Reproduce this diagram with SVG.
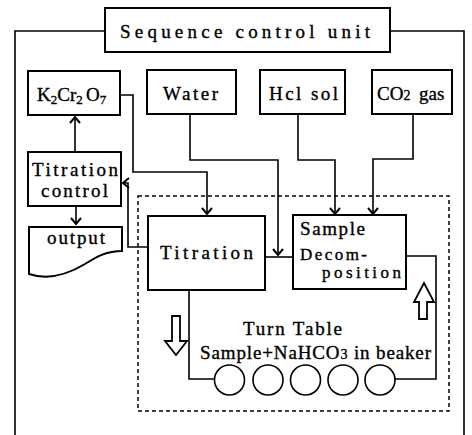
<svg xmlns="http://www.w3.org/2000/svg" width="472" height="435" viewBox="0 0 472 435">
<defs>
<style>
.box{fill:#fff;stroke:#000;stroke-width:2}
.ln{fill:none;stroke:#000;stroke-width:1.6}
.dash{fill:none;stroke:#000;stroke-width:1.5;stroke-dasharray:4 3}
.hollow{fill:#fff;stroke:#000;stroke-width:1.8;stroke-linejoin:miter}
text{font-family:"Liberation Serif","DejaVu Serif",serif;font-size:19px;fill:#000;stroke:#000;stroke-width:0.35}
.sm{font-size:13px}
.mid{font-size:17px}
</style>
<marker id="ahr" viewBox="-8 -7 10 14" markerWidth="10" markerHeight="14" refX="0" refY="0" orient="auto" markerUnits="userSpaceOnUse">
<path d="M-6,-5 L0,0 L-6,5" fill="none" stroke="#000" stroke-width="2"/>
</marker>
</defs>
<rect width="472" height="435" fill="#fff"/>

<g id="connectors">
<path class="ln" d="M105,31 H15 V435"/>
<path class="ln" d="M390,31 H464 V435"/>
<rect class="dash" x="138" y="196" width="311" height="215"/>
<path class="ln" d="M75,152 V117" marker-end="url(#ahr)"/>
<path class="ln" d="M120,95 H133 V172 H207 V214" marker-end="url(#ahr)"/>
<path class="ln" d="M190,114 V160 H278 V255" marker-end="url(#ahr)"/>
<path class="ln" d="M298,114 V160 H335 V214" marker-end="url(#ahr)"/>
<path class="ln" d="M413,114 V159 H373 V214" marker-end="url(#ahr)"/>
<path class="ln" d="M265,257 H293"/>
<path class="ln" d="M148,247 H128 V183 H123" marker-end="url(#ahr)"/>
<path class="ln" d="M76,206 V224" marker-end="url(#ahr)"/>
<path class="ln" d="M189,290 V379 H214.5"/>
<path class="ln" d="M395,379 H436 V256 H406"/>
</g>

<g id="seq">
<rect class="box" x="105" y="8" width="285" height="44"/>
<text x="120" y="38" textLength="250" lengthAdjust="spacing">Sequence control unit</text>
</g>

<g id="k2cr2o7">
<rect class="box" x="28" y="71" width="92" height="44"/>
<text x="37" y="101">K<tspan class="sm" dy="3">2</tspan><tspan dy="-3">Cr</tspan><tspan class="sm" dy="3">2</tspan><tspan dy="-3" x="86">O</tspan><tspan class="sm" dy="3">7</tspan></text>
</g>

<g id="water">
<rect class="box" x="147" y="70" width="89" height="44"/>
<text x="163" y="100" textLength="55" lengthAdjust="spacing">Water</text>
</g>

<g id="hcl">
<rect class="box" x="260" y="70" width="85" height="44"/>
<text x="269" y="100" textLength="69" lengthAdjust="spacing">Hcl sol</text>
</g>

<g id="co2">
<rect class="box" x="372" y="70" width="80" height="44"/>
<text x="377" y="100">CO<tspan font-size="14">2</tspan><tspan x="419">gas</tspan></text>
</g>

<g id="titration-control">
<rect class="box" x="28" y="152" width="93" height="54"/>
<text x="32" y="176" textLength="86" lengthAdjust="spacing">Titration</text>
<text x="41" y="197" textLength="67" lengthAdjust="spacing">control</text>
</g>

<g id="output">
<path class="box" d="M29,227 L122,227 L122,251 C105,251 95,258 85,264 C70,273 50,281 29,274 Z"/>
<text x="47" y="244" textLength="58" lengthAdjust="spacing">output</text>
</g>

<g id="titration">
<rect class="box" x="148" y="216" width="117" height="74"/>
<text x="160" y="259" textLength="93" lengthAdjust="spacing">Titration</text>
</g>

<g id="sample-decomposition">
<rect class="box" x="293" y="215" width="113" height="74"/>
<text x="300" y="235" textLength="65" lengthAdjust="spacing">Sample</text>
<text class="mid" x="300" y="260" textLength="67" lengthAdjust="spacing">Decom-</text>
<text class="mid" x="322" y="278" textLength="79" lengthAdjust="spacing">position</text>
</g>

<g id="turn-table">
<text x="243" y="335" textLength="99" lengthAdjust="spacing">Turn Table</text>
<text x="200" y="359" textLength="231" lengthAdjust="spacing">Sample+NaHCO<tspan font-size="14">3</tspan> in beaker</text>
<g class="ln">
<circle cx="229.5" cy="380" r="15"/>
<circle cx="268" cy="380" r="15"/>
<circle cx="305.5" cy="380" r="15"/>
<circle cx="343" cy="380" r="15"/>
<circle cx="380" cy="380" r="15"/>
</g>
</g>

<g id="down-arrow">
<path class="hollow" d="M172,316 H180 V341 H187 L176,355 L165,341 H172 Z"/>
</g>
<g id="up-arrow">
<path class="hollow" d="M419,319 H427 V302 H434 L424,283 L414,302 H419 Z"/>
</g>
</svg>
